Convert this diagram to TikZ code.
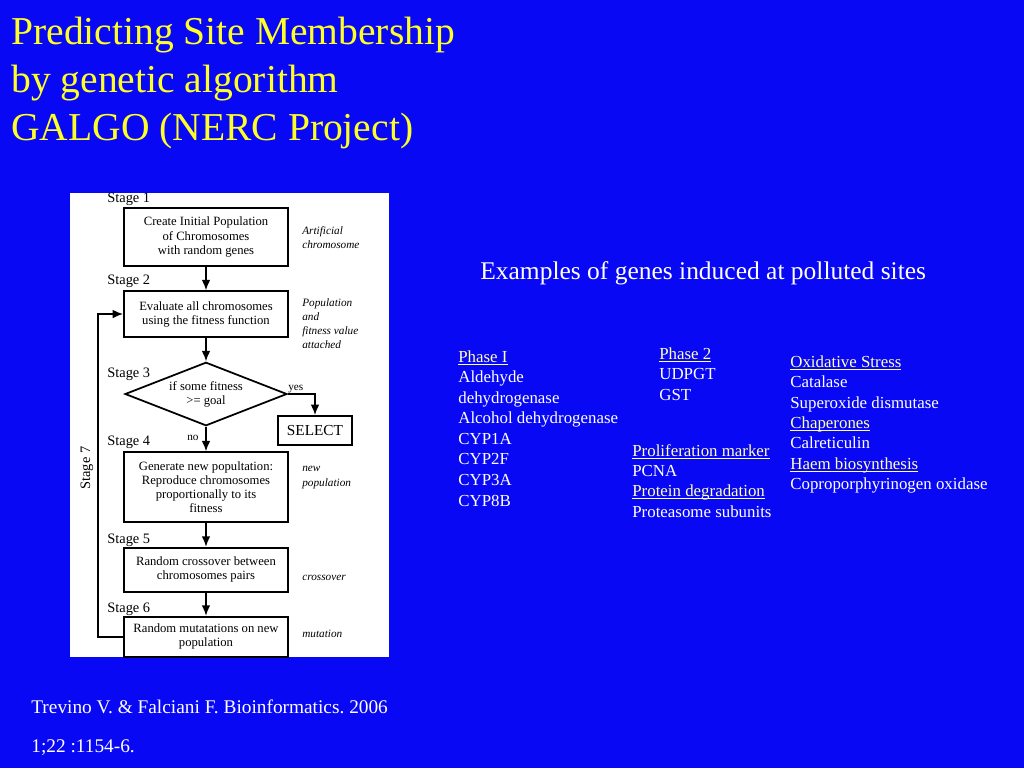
\documentclass[tikz,border=0pt]{standalone}
\usepackage{fontspec}
\setmainfont{Liberation Serif}
\usetikzlibrary{shapes.geometric, arrows.meta}

\definecolor{slideblue}{RGB}{8,8,245}
\definecolor{titleyellow}{RGB}{255,255,40}
\definecolor{headyellow}{RGB}{255,255,190}

% underline close to the baseline
\newcommand{\hdul}[1]{\setbox0\hbox{#1}\rlap{\rule[-1.6pt]{\wd0}{0.55pt}}\box0}
\frenchspacing

\begin{document}
\begin{tikzpicture}[x=0.02cm, y=-0.02cm,
    title/.style={anchor=base west, inner sep=0pt, text=titleyellow, font=\fontsize{22.5}{27}\selectfont},
    plain/.style={anchor=base west, inner sep=0pt, text=white, font=\fontsize{9.6}{11}\selectfont},
    head/.style={plain, text=headyellow},
    stagebox/.style={draw, line width=1pt, fill=white, minimum width=3.28cm, inner sep=0pt, align=center, font=\fontsize{7.2}{8}\selectfont},
    decide/.style={diamond, draw, line width=1pt, aspect=2.55, minimum width=3.24cm, minimum height=1.27cm, inner sep=0pt, align=center, font=\fontsize{7.2}{8}\selectfont},
    stagelabel/.style={anchor=base west, inner sep=0pt, font=\fontsize{8.2}{9}\selectfont},
    note/.style={anchor=base west, inner sep=0pt, font=\fontsize{6.4}{7}\itshape},
    flow/.style={line width=1pt, -{Latex[length=6pt, width=5pt]}}
]
  % slide and panel
  \fill[slideblue] (0,0) rectangle (1024,768);
  \fill[white] (70,192.7) rectangle (389,657);

  % title
  \node[title] (t1) at (11,44) {Predicting Site Membership};
  \node[title] (t2) at (11,92) {by genetic algorithm};
  \node[title] (t3) at (11,140) {GALGO (NERC Project)};

  % flowchart
  \node[stagebox, minimum height=1.15cm] (create) at (206,237) {Create Initial Population\\of Chromosomes\\with random genes};
  \node[stagebox, minimum height=0.91cm] (evaluate) at (206,314) {Evaluate all chromosomes\\using the fitness function};
  \node[decide] (goal) at (206,394) {if some fitness\\>= goal};
  \node[stagebox, minimum width=1.48cm, minimum height=0.58cm, font=\fontsize{8.7}{9}\selectfont] (select) at (315,430.5) {SELECT};
  \node[stagebox, minimum height=1.39cm] (generate) at (206,487) {Generate new popultation:\\Reproduce chromosomes\\proportionally to its\\fitness};
  \node[stagebox, minimum height=0.88cm] (crossover) at (206,569.7) {Random crossover between\\chromosomes pairs};
  \node[stagebox, minimum height=0.8cm] (mutate) at (206,636.7) {Random mutatations on new\\population};

  \draw[flow] (create) -- (evaluate);
  \draw[flow] (evaluate) -- (goal);
  \draw[flow] (goal.east) -| (select.north);
  \draw[flow] (goal) -- (generate);
  \draw[flow] (generate) -- (crossover);
  \draw[flow] (crossover) -- (mutate);
  \draw[flow] (mutate.west) -- ++(-25,0) |- (evaluate.west);

  \node[stagelabel] (s1) at (107,202) {Stage 1};
  \node[stagelabel] (s2) at (107,284) {Stage 2};
  \node[stagelabel] (s3) at (107,377) {Stage 3};
  \node[stagelabel] (s4) at (107,445) {Stage 4};
  \node[stagelabel] (s5) at (107,543) {Stage 5};
  \node[stagelabel] (s6) at (107,612) {Stage 6};
  \node[stagelabel, anchor=center, rotate=90] (s7) at (87,468) {Stage 7};
  \node[note, font=\fontsize{6.4}{7}\selectfont] (yes) at (288,390) {yes};
  \node[note, font=\fontsize{6.4}{7}\selectfont] (no) at (187,440) {no};

  % side notes
  \node[note] (n1) at (302,234) {Artificial};
  \node[note] (n2) at (302,248) {chromosome};
  \node[note] (n3) at (302,306.7) {Population};
  \node[note] (n4) at (302,320.5) {and};
  \node[note] (n5) at (302,334.3) {fitness value};
  \node[note] (n6) at (302,348) {attached};
  \node[note] (n7) at (302,471.7) {new};
  \node[note] (n8) at (302,486.7) {population};
  \node[note] (n9) at (302,580) {crossover};
  \node[note] (n10) at (302,637.3) {mutation};

  % gene lists
  \node[plain, font=\fontsize{14.5}{16}\selectfont] (examples) at (480,279) {Examples of genes induced at polluted sites};

  \node[head] (phase1) at (458,362) {\hdul{Phase I}};
  \foreach \g [count=\i] in {Aldehyde, dehydrogenase, Alcohol dehydrogenase, CYP1A, CYP2F, CYP3A, CYP8B}
    \node[plain] (pa-\i) at (458,362+20.57*\i) {\g};

  \node[head] (phase2) at (659,359) {\hdul{Phase 2}};
  \foreach \g [count=\i] in {UDPGT, GST}
    \node[plain] (pb-\i) at (659,359+20.5*\i) {\g};

  \node[head] (prolif) at (632,456) {\hdul{Proliferation marker}};
  \node[plain] (pcna) at (632,476.3) {PCNA};
  \node[head] (degrad) at (632,496.6) {\hdul{Protein degradation}};
  \node[plain] (protea) at (632,517) {Proteasome subunits};

  \node[head] (oxid) at (790,367) {\hdul{Oxidative Stress}};
  \node[plain] (catal) at (790,387.5) {Catalase};
  \node[plain] (super) at (790,408) {Superoxide dismutase};
  \node[head] (chaper) at (790,428.4) {\hdul{Chaperones}};
  \node[plain] (calret) at (790,448.8) {Calreticulin};
  \node[head] (haem) at (790,469.3) {\hdul{Haem biosynthesis}};
  \node[plain] (copro) at (790,489.7) {Coproporphyrinogen oxidase};

  % reference
  \node[plain, font=\fontsize{11}{12}\selectfont] (ref1) at (31,713) {Trevino V. \& Falciani F. Bioinformatics. 2006};
  \node[plain, font=\fontsize{11}{12}\selectfont] (ref2) at (31,752) {1;22 :1154-6.};
\end{tikzpicture}
\end{document}
